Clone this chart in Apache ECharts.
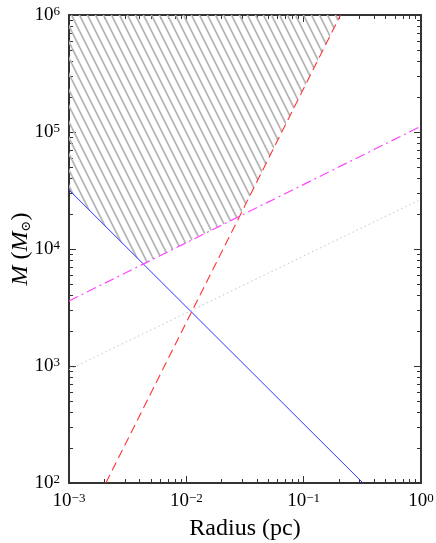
<!DOCTYPE html>
<html>
<head>
<meta charset="utf-8">
<script src="https://cdn.jsdelivr.net/npm/echarts@6/dist/echarts.min.js"></script>
<style>
html, body { margin: 0; padding: 0; background: #fff; }
#chart { width: 436px; height: 543px; }
</style>
</head>
<body>
<div id="chart"></div>
<script>
// axis ranges (R in pc, M in solar masses)
var xRange = [1e-3, 1];
var yRange = [1e2, 1e6];

// each relation is a straight line in log-log, given by its two end points
var blueLine = [[1e-3, 3.2e4], [0.32, 100]];
var redLine = [[2.06e-3, 100], [0.206, 1e6]];
var magentaLine = [[1e-3, 3.6e3], [1, 1.12e5]];
var grayLine = [[1e-3, 930], [0.95, 2.6e4]];

var serif = 'Liberation Serif, DejaVu Serif, serif';
var axisColor = '#333';

function fit(p) {
    var x1 = Math.log10(p[0][0]), y1 = Math.log10(p[0][1]);
    var x2 = Math.log10(p[1][0]), y2 = Math.log10(p[1][1]);
    var m = (y2 - y1) / (x2 - x1);
    return { m: m, c: y1 - m * x1 };
}
function cross(a, b) {
    var x = (b.c - a.c) / (a.m - b.m);
    return [Math.pow(10, x), Math.pow(10, a.m * x + a.c)];
}

// hatched region: above blue, magenta and red
var fb = fit(blueLine), fm = fit(magentaLine), fr = fit(redLine);
var hatchPoly = [
    [xRange[0], yRange[1]],
    [xRange[0], Math.pow(10, fb.m * Math.log10(xRange[0]) + fb.c)],
    cross(fb, fm),
    cross(fm, fr),
    [Math.pow(10, (Math.log10(yRange[1]) - fr.c) / fr.m), yRange[1]]
];

// minor tick positions (log10 space)
var xMinor = [], yMinor = [];
for (var d = -3; d < 0; d++) for (var k = 2; k < 10; k++) xMinor.push(d + Math.log10(k));
for (var d2 = 2; d2 < 6; d2++) for (var k2 = 2; k2 < 10; k2++) yMinor.push(d2 + Math.log10(k2));

function hatch() {
    var c = document.createElement('canvas');
    c.width = 8; c.height = 16;
    var g = c.getContext('2d');
    g.strokeStyle = '#b5b5b5';
    g.lineWidth = 1.8;
    for (var i = -1; i <= 1; i++) {
        g.beginPath();
        g.moveTo(i * 8, 0);
        g.lineTo(i * 8 + 8, 16);
        g.stroke();
    }
    return c;
}

function powLabel(v) {
    var e = Math.round(Math.log10(v));
    return '{b|10}{s|' + (e < 0 ? '\u2212' + (-e) : e) + '}';
}
var labelRich = {
    b: { fontFamily: serif, fontSize: 19, color: '#000' },
    s: { fontFamily: serif, fontSize: 13, color: '#000', verticalAlign: 'top' }
};

function logAxis(range, pos, showLabel, margin) {
    return {
        type: 'log', logBase: 10, min: range[0], max: range[1],
        gridIndex: 0, position: pos,
        axisLine: { show: true, onZero: false, lineStyle: { color: axisColor, width: 2 } },
        axisTick: { show: true, inside: true, length: 7, lineStyle: { color: axisColor, width: 1 } },
        axisLabel: { show: showLabel, margin: margin, formatter: powLabel, rich: labelRich },
        splitLine: { show: false }
    };
}
function minorAxis(range, pos, vals) {
    return {
        type: 'value', min: Math.log10(range[0]), max: Math.log10(range[1]),
        gridIndex: 1, position: pos,
        axisLine: { show: false, onZero: false },
        axisTick: { show: true, inside: true, length: 4, customValues: vals, lineStyle: { color: axisColor, width: 1 } },
        axisLabel: { show: false },
        splitLine: { show: false }
    };
}

var chart = echarts.init(document.getElementById('chart'));
var xBottom = logAxis(xRange, 'bottom', true, 9);
xBottom.name = 'Radius (pc)';
xBottom.nameLocation = 'middle';
xBottom.nameGap = 34;
xBottom.nameMoveOverlap = false;
xBottom.nameTextStyle = { fontFamily: serif, fontSize: 24, color: '#000' };
var yLeft = logAxis(yRange, 'left', true, 9);
yLeft.name = '{i|M} ({i|M}{sub|\u2299})';
yLeft.nameLocation = 'middle';
yLeft.nameGap = 36;
yLeft.nameMoveOverlap = false;
yLeft.nameTextStyle = {
    fontFamily: serif, fontSize: 24, color: '#000',
    rich: {
        i: { fontFamily: serif, fontSize: 24, fontStyle: 'italic', color: '#000' },
        sub: { fontFamily: 'DejaVu Serif, serif', fontSize: 13, color: '#000', verticalAlign: 'bottom' }
    }
};

function lineSeries(pts, color, type, width) {
    return {
        type: 'line', xAxisIndex: 0, yAxisIndex: 0, data: pts,
        showSymbol: false, symbol: 'none', clip: true, z: 3,
        lineStyle: { color: color, type: type, width: width }
    };
}

var gridBox = { left: 69, right: 15, top: 15, bottom: 60, outerBoundsMode: 'none', containLabel: false };
var frameGrid = echarts.util.clone(gridBox);
frameGrid.show = true;
frameGrid.borderColor = axisColor;
frameGrid.borderWidth = 2;

var option = {
    animation: false,
    backgroundColor: '#fff',
    grid: [frameGrid, echarts.util.clone(gridBox)],
    xAxis: [
        xBottom,
        logAxis(xRange, 'top', false, 5),
        minorAxis(xRange, 'bottom', xMinor),
        minorAxis(xRange, 'top', xMinor)
    ],
    yAxis: [
        yLeft,
        logAxis(yRange, 'right', false, 5),
        minorAxis(yRange, 'left', yMinor),
        minorAxis(yRange, 'right', yMinor)
    ],
    series: [
        {
            type: 'custom', xAxisIndex: 0, yAxisIndex: 0, z: 1,
            data: [0],
            renderItem: function (params, api) {
                return {
                    type: 'polygon',
                    shape: { points: hatchPoly.map(function (p) { return api.coord(p); }) },
                    style: { fill: { image: hatch(), repeat: 'repeat' }, stroke: null }
                };
            }
        },
        lineSeries(blueLine, '#3333ff', 'solid', 1),
        lineSeries(redLine, '#ff3333', [9, 5], 1.1),
        lineSeries(magentaLine, '#ff44ff', [10, 4, 2, 4], 1.2),
        lineSeries(grayLine, '#c4c4c4', [1.5, 3], 1)
    ]
};
chart.setOption(option);
</script>
</body>
</html>
